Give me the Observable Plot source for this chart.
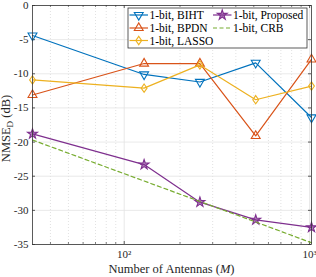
<!DOCTYPE html>
<html>
<head>
<meta charset="utf-8">
<script src="https://cdn.jsdelivr.net/npm/d3@7"></script>
<script src="https://cdn.jsdelivr.net/npm/@observablehq/plot@0.6"></script>
<style>
  html, body { margin: 0; padding: 0; background: #fff; }
  #chart { width: 316px; height: 277px; }
</style>
</head>
<body>
<div id="chart"></div>
<script>
const antennas = [32, 128, 256, 512, 1024];
const biht     = [-4.4, -10.1, -11.2, -8.4, -16.4];
const bpdn     = [-13.1, -8.5, -8.5, -19.1, -7.9];
const lasso    = [-10.9, -12.1, -8.7, -13.8, -11.8];
const proposed = [-18.8, -23.3, -28.8, -31.4, -32.5];
const crb      = [-19.7, -25.7, -28.7, -31.7, -34.75];

const seriesNames = ["1-bit, BIHT", "1-bit, BPDN", "1-bit, LASSO", "1-bit, Proposed", "1-bit, CRB"];
const seriesColors = ["#0072BD", "#D95319", "#EDB120", "#7E2F8E", "#77AC30"];

const yTicks = [-35, -30, -25, -20, -15, -10, -5, 0];
const xMajor = [100, 1000];
const xMinor = [40, 50, 60, 70, 80, 90, 200, 300, 400, 500, 600, 700, 800, 900];

const triDown = {
  draw(ctx, size) {
    const s = Math.sqrt(size / (Math.sqrt(3) / 4));
    const h = s * Math.sqrt(3) / 2;
    ctx.moveTo(-s / 2, -h / 3);
    ctx.lineTo(s / 2, -h / 3);
    ctx.lineTo(0, 2 * h / 3);
    ctx.closePath();
  }
};
const triUp = {
  draw(ctx, size) {
    const s = Math.sqrt(size / (Math.sqrt(3) / 4));
    const h = s * Math.sqrt(3) / 2;
    ctx.moveTo(-s / 2, h / 3);
    ctx.lineTo(s / 2, h / 3);
    ctx.lineTo(0, -2 * h / 3);
    ctx.closePath();
  }
};
const diamondNarrow = {
  draw(ctx, size) {
    const r = Math.sqrt(size) * 0.62;
    ctx.moveTo(0, -r * 1.15);
    ctx.lineTo(r * 0.8, 0);
    ctx.lineTo(0, r * 1.15);
    ctx.lineTo(-r * 0.8, 0);
    ctx.closePath();
  }
};
const symbols = [triDown, triUp, diamondNarrow, d3.symbolStar, null];
const radii = [3.3, 3.3, 3.3, 3.1, 0];

const seriesValues = [biht, bpdn, lasso, proposed, crb];
const rows = [];
seriesValues.forEach((vals, i) => {
  vals.forEach((v, j) => rows.push({series: seriesNames[i], idx: i, M: antennas[j], v}));
});

const W = 316, H = 277;
const mL = 32, mR = 5, mT = 5, mB = 33;
const pw = W - mL - mR, ph = H - mT - mB;
const font = "'Liberation Serif', 'DejaVu Serif', serif";

const marks = [
  Plot.ruleX(xMinor, {stroke: "#cfcfcf", strokeWidth: 0.6, strokeDasharray: "1,2"}),
  Plot.ruleX(xMajor, {stroke: "#e3e3e3", strokeWidth: 0.8}),
  Plot.ruleY(yTicks, {stroke: "#e3e3e3", strokeWidth: 0.8}),
  // inward ticks
  Plot.ruleY(yTicks, {stroke: "#333", strokeWidth: 0.8, insetRight: pw - 3}),
  Plot.ruleY(yTicks, {stroke: "#333", strokeWidth: 0.8, insetLeft: pw - 3}),
  Plot.ruleX(xMajor, {stroke: "#333", strokeWidth: 0.8, insetTop: ph - 3}),
  Plot.ruleX(xMajor, {stroke: "#333", strokeWidth: 0.8, insetBottom: ph - 3}),
  Plot.ruleX(xMinor, {stroke: "#333", strokeWidth: 0.6, insetTop: ph - 2}),
  Plot.ruleX(xMinor, {stroke: "#333", strokeWidth: 0.6, insetBottom: ph - 2}),
];

seriesValues.forEach((vals, i) => {
  const data = rows.filter(d => d.idx === i);
  marks.push(Plot.line(data, {
    x: "M", y: "v", stroke: seriesColors[i], strokeWidth: 1.2,
    strokeDasharray: i === 4 ? "4,3" : null
  }));
  if (symbols[i]) {
    marks.push(Plot.dot(data, {
      x: "M", y: "v", stroke: seriesColors[i], strokeWidth: 1.1,
      fill: i === 3 ? seriesColors[i] : "none",
      fillOpacity: i === 3 ? 0.6 : 1,
      symbol: () => symbols[i], r: radii[i]
    }));
  }
});

marks.push(Plot.frame({stroke: "#333", strokeWidth: 0.8}));
marks.push(Plot.axisY({ticks: yTicks, tickSize: 0, tickPadding: 4, label: null, fontSize: 11, tickFormat: d => String(d)}));
marks.push(Plot.axisX({ticks: xMajor, tickSize: 0, tickPadding: 6, label: null, fontSize: 11,
  tickFormat: d => d === 100 ? "10²" : "10³"}));

const chart = Plot.plot({
  width: W, height: H,
  marginLeft: mL, marginRight: mR, marginTop: mT, marginBottom: mB,
  style: {fontFamily: font, fontSize: "11px", color: "#262626", background: "#fff"},
  x: {type: "log", domain: [32, 1024]},
  y: {domain: [-35, 0]},
  marks
});

document.getElementById("chart").appendChild(chart);

const svg = d3.select(chart);
// y axis label with subscript
const yl = svg.append("text")
  .attr("transform", `translate(10,${mT + ph / 2 + 4}) rotate(-90)`)
  .attr("text-anchor", "middle")
  .attr("font-family", font).attr("font-size", 12.5).attr("fill", "#262626");
yl.append("tspan").text("NMSE");
yl.append("tspan").attr("font-size", 9).attr("dy", 3).text("D");
yl.append("tspan").attr("dy", -3).text(" (dB)");

// x axis label
const xl = svg.append("text")
  .attr("x", mL + pw / 2).attr("y", H - 4)
  .attr("text-anchor", "middle")
  .attr("font-family", font).attr("font-size", 12.5).attr("fill", "#262626");
xl.append("tspan").text("Number of Antennas (");
xl.append("tspan").attr("font-style", "italic").text("M");
xl.append("tspan").text(")");

// legend
const lg = svg.append("g");
lg.append("rect").attr("x", 128).attr("y", 8).attr("width", 179).attr("height", 40)
  .attr("fill", "#fff").attr("stroke", "#333").attr("stroke-width", 0.8);
const legendPos = [
  [129.5, 15], [129.5, 28], [129.5, 40.5], [213, 15], [213, 28]
];
seriesNames.forEach((name, i) => {
  const [x0, y0] = legendPos[i];
  const g = lg.append("g");
  g.append("line").attr("x1", x0).attr("x2", x0 + 18.5).attr("y1", y0).attr("y2", y0)
    .attr("stroke", seriesColors[i]).attr("stroke-width", 1.2)
    .attr("stroke-dasharray", i === 4 ? "4,2.5" : null);
  if (symbols[i]) {
    const r = radii[i];
    g.append("path").attr("d", d3.symbol(symbols[i], Math.PI * r * r)())
      .attr("transform", `translate(${x0 + 9.25},${y0})`)
      .attr("stroke", seriesColors[i]).attr("stroke-width", 1.1)
      .attr("fill", i === 3 ? seriesColors[i] : "none").attr("fill-opacity", i === 3 ? 0.6 : 1);
  }
  g.append("text").attr("x", x0 + 20).attr("y", y0).attr("dy", "0.35em")
    .attr("text-anchor", "start")
    .attr("font-family", font).attr("font-size", 11.5).attr("fill", "#000").text(name);
});
</script>
</body>
</html>
